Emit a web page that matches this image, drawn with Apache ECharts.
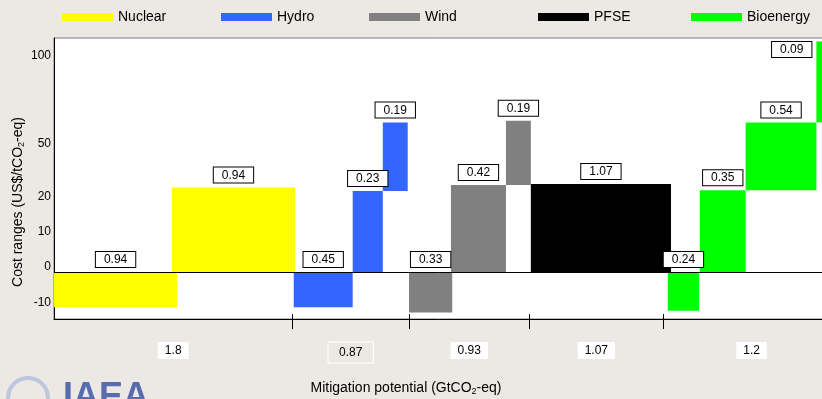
<!DOCTYPE html>
<html>
<head>
<meta charset="utf-8">
<script src="https://cdn.jsdelivr.net/npm/echarts@6/dist/echarts.min.js"></script>
<style>
  html, body { margin: 0; padding: 0; background: #ece9e5; }
  #chart { width: 822px; height: 399px; }
</style>
</head>
<body>
<div id="chart"></div>
<script>
var techNames = ['Nuclear', 'Hydro', 'Wind', 'PFSE', 'Bioenergy'];
var techColors = ['#ffff00', '#3366ff', '#808080', '#000000', '#00ff00'];

// one entry per bar (x in GtCO2-eq, y in US$/tCO2-eq)
var barTech  = [0, 0, 1, 1, 1, 2, 2, 2, 3, 4, 4, 4, 4];
var barStart = [0, 0.90, 1.83, 2.28, 2.51, 2.71, 3.03, 3.45, 3.64, 4.685, 4.93, 5.28, 5.82];
var barWidth = [0.94, 0.94, 0.45, 0.23, 0.19, 0.33, 0.42, 0.19, 1.07, 0.24, 0.35, 0.54, 0.09];
var barLow   = [-10, 0, -10, 0, 26, -11.5, 0, 29.5, 0, -11, 0, 26.5, 65];
var barHigh  = [0, 28, 0, 26, 65, 0, 29.5, 66, 30, 0, 26.5, 65, 111];

// totals per technology, shown under the axis
var groupTotals = [1.8, 0.87, 0.93, 1.07, 1.2];
var groupEdges = [0, 1.82, 2.71, 3.63, 4.65, 6.0];

var yTicks = [-10, 0, 10, 20, 50, 100];

var FONT = '"Liberation Sans", Arial, sans-serif';

// the cost axis is squeezed above 20
function ty(v) { return v <= 20 ? v : 20 + (v - 20) / 2; }
function tyInv(t) { return t <= 20 ? t : 20 + (t - 20) * 2; }

var chart = echarts.init(document.getElementById('chart'));

function renderBar(params, api) {
  var x0 = api.value(0), w = api.value(1);
  var lo = ty(api.value(2)), hi = ty(api.value(3));
  var p0 = api.coord([x0, hi]);
  var p1 = api.coord([x0 + w, lo]);
  var cs = params.coordSys;
  var rect = echarts.graphic.clipRectByRect(
    { x: p0[0], y: p0[1], width: p1[0] - p0[0], height: p1[1] - p0[1] },
    { x: cs.x, y: cs.y, width: cs.width, height: cs.height }
  );
  var children = [];
  if (rect) {
    children.push({ type: 'rect', shape: rect, style: { fill: api.visual('color') } });
  }
  var lx = Math.min((p0[0] + p1[0]) / 2, cs.x + cs.width - 32);
  var ly = p0[1] - 5, align = 'center', valign = 'bottom';
  if (ly - 16 < cs.y) {
    // no room above: put it at the top, left of the bar
    lx = p0[0] - 5; ly = cs.y + 4; align = 'right'; valign = 'top';
  }
  children.push({
    type: 'text',
    z2: 10,
    style: {
      text: String(w),
      x: lx,
      y: ly,
      align: align,
      verticalAlign: valign,
      fill: '#000',
      font: '12px ' + FONT,
      backgroundColor: '#fff',
      borderColor: '#000',
      borderWidth: 1,
      padding: [2, 8, 1, 8]
    }
  });
  return { type: 'group', children: children };
}

var series = techNames.map(function (name, k) {
  var data = [];
  for (var i = 0; i < barTech.length; i++) {
    if (barTech[i] === k) {
      data.push([barStart[i], barWidth[i], barLow[i], barHigh[i]]);
    }
  }
  return {
    name: name,
    type: 'custom',
    renderItem: renderBar,
    itemStyle: { color: techColors[k] },
    encode: { x: [0], y: [2, 3] },
    data: data
  };
});

// zero line
series.push({
  type: 'line',
  data: [],
  z: 5,
  markLine: {
    silent: true,
    symbol: ['none', 'none'],
    label: { show: false },
    lineStyle: { color: '#000', width: 1, type: 'solid' },
    data: [{ yAxis: 0 }]
  }
});

var groupCenters = groupTotals.map(function (t, i) {
  return (groupEdges[i] + groupEdges[i + 1]) / 2;
});
var innerEdges = groupEdges.slice(1, groupEdges.length - 1);

var legendLeft = [57, 216, 364, 533, 686];

var option = {
  backgroundColor: '#ece9e5',
  animation: false,
  textStyle: { fontFamily: FONT },
  legend: techNames.map(function (n, i) {
    return {
      data: [{ name: n, icon: 'rect' }],
      left: legendLeft[i],
      top: 5,
      itemWidth: 51,
      itemHeight: 8,
      textStyle: { fontSize: 14, color: '#000', fontFamily: FONT }
    };
  }),
  grid: {
    left: 54, top: 38, right: -2, bottom: 80,
    outerBoundsMode: 'none',
    containLabel: false,
    show: true, backgroundColor: '#fff', borderColor: '#7a7a7a', borderWidth: 1
  },
  xAxis: [{
    type: 'value',
    min: 0,
    max: 770 / 131,
    axisLine: { onZero: false, lineStyle: { color: '#000', width: 1 } },
    axisTick: { show: true, customValues: innerEdges, length: 10, lineStyle: { color: '#000' } },
    splitLine: { show: false },
    axisLabel: {
      customValues: groupCenters,
      margin: 23,
      formatter: function (v) {
        for (var i = 0; i < groupCenters.length; i++) {
          if (Math.abs(groupCenters[i] - v) < 1e-6) {
            return i === 1 ? '{o|' + groupTotals[i] + '}' : '{w|' + groupTotals[i] + '}';
          }
        }
        return '';
      },
      rich: {
        w: { fontSize: 12, color: '#000', backgroundColor: '#fff', padding: [3, 7, 2, 7] },
        o: { fontSize: 12, color: '#000', borderColor: '#fff', borderWidth: 1, padding: [5, 11, 4, 11] }
      }
    },
    name: '{a|Mitigation potential (GtCO}{s|2}{a|-eq)}',
    nameLocation: 'middle',
    nameGap: 61,
    nameMoveOverlap: false,
    nameTextStyle: {
      padding: [0, 66, 0, 0],
      rich: {
        a: { fontSize: 14, color: '#000', fontFamily: FONT },
        s: { fontSize: 9, color: '#000', fontFamily: FONT, padding: [7, 0, 0, 0] }
      }
    }
  }, {
    type: 'value',
    min: 0,
    max: 770 / 131,
    position: 'bottom',
    axisLine: { show: false, onZero: false },
    axisTick: { show: true, inside: true, customValues: innerEdges, length: 5, lineStyle: { color: '#000' } },
    axisLabel: { show: false },
    splitLine: { show: false }
  }],
  yAxis: {
    type: 'value',
    min: -47 / 3.52,
    max: 234 / 3.52,
    axisLine: { show: true, lineStyle: { color: '#000' } },
    axisTick: { show: false },
    splitLine: { show: false },
    axisLabel: {
      customValues: yTicks.map(ty),
      formatter: function (v) { return String(Math.round(tyInv(v))); },
      margin: 3,
      verticalAlign: 'bottom',
      lineHeight: 10,
      fontSize: 12,
      color: '#000'
    },
    name: '{a|Cost ranges (US$/tCO}{s|2}{a|-eq)}',
    nameLocation: 'middle',
    nameGap: 28,
    nameMoveOverlap: false,
    nameTextStyle: {
      padding: [0, 47, 0, 0],
      rich: {
        a: { fontSize: 14, color: '#000', fontFamily: FONT },
        s: { fontSize: 9, color: '#000', fontFamily: FONT, padding: [7, 0, 0, 0] }
      }
    }
  },
  graphic: [
    {
      type: 'circle',
      shape: { cx: 28, cy: 398, r: 20 },
      style: { fill: 'none', stroke: '#bcc6dc', lineWidth: 4 }
    },
    {
      type: 'text',
      left: 63,
      top: 380,
      style: { text: 'IAEA', font: 'bold 36px ' + FONT, fill: '#3f56a6', opacity: 0.85 }
    }
  ],
  series: series
};

chart.setOption(option);
</script>
</body>
</html>
